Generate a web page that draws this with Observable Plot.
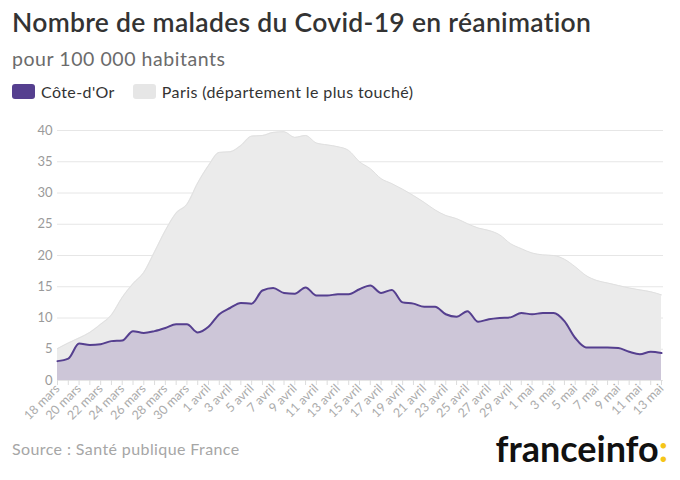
<!DOCTYPE html>
<html>
<head>
<meta charset="utf-8">
<script src="https://cdn.jsdelivr.net/npm/d3@7"></script>
<script src="https://cdn.jsdelivr.net/npm/@observablehq/plot@0.6"></script>
<style>
  html, body { margin: 0; padding: 0; background: #fff; }
  body { width: 680px; height: 480px; position: relative; overflow: hidden; font-family: Lato, "Open Sans", sans-serif; }
  #title { position: absolute; left: 12px; top: 6px; font-size: 26.5px; font-weight: 600; color: #333; letter-spacing: 0.3px; white-space: nowrap; }
  #subtitle { position: absolute; left: 12px; top: 47px; font-size: 19.5px; color: #6b6b6b; letter-spacing: 0.55px; white-space: nowrap; }
  #legend { position: absolute; left: 12px; top: 82px; font-size: 16px; color: #333; display: flex; align-items: center; white-space: nowrap; letter-spacing: 0.4px; }
  .sw { display: inline-block; width: 23px; height: 15px; border-radius: 3px; margin-right: 6px; }
  .item { display: flex; align-items: center; margin-right: 18px; }
  #chart { position: absolute; left: 0; top: 115px; }
  #source { position: absolute; left: 12px; top: 439px; font-size: 16px; color: #a6a6a6; letter-spacing: 0.4px; white-space: nowrap; }
  #logo { position: absolute; right: 12px; top: 426px; font-size: 36px; font-weight: 700; color: #111; letter-spacing: 0px; white-space: nowrap; }
  #logo span { color: #f5c518; }
</style>
</head>
<body>
<div id="title">Nombre de malades du Covid-19 en réanimation</div>
<div id="subtitle">pour 100 000 habitants</div>
<div id="legend"></div>
<div id="chart"></div>
<div id="source">Source : Santé publique France</div>
<div id="logo">franceinfo<span>:</span></div>
<script>
// ---- data ----
const startDate = [2020, 2, 18]; // 18 mars 2020
const monthNames = ["janv.", "févr.", "mars", "avril", "mai", "juin"];
const seriesNames = ["Côte-d'Or", "Paris (département le plus touché)"];
const coteDOr = [
  3.1, 3.5, 5.9, 5.7, 5.8, 6.3, 6.4, 7.9, 7.6, 7.9,
  8.4, 9.0, 9.0, 7.7, 8.6, 10.6, 11.6, 12.4, 12.3, 14.4,
  14.8, 14.0, 13.9, 14.9, 13.6, 13.6, 13.8, 13.8, 14.6, 15.2,
  14.0, 14.5, 12.5, 12.3, 11.8, 11.8, 10.6, 10.2, 11.1, 9.4,
  9.8, 10.0, 10.1, 10.8, 10.6, 10.8, 10.8, 9.5, 6.8, 5.3,
  5.3, 5.3, 5.2, 4.6, 4.2, 4.6, 4.4
];
const paris = [
  5.1, 6.0, 6.8, 7.7, 9.0, 10.5, 13.3, 15.5, 17.3, 20.6,
  24.0, 26.8, 28.2, 31.6, 34.4, 36.5, 36.6, 37.6, 39.1, 39.2,
  39.7, 39.8, 38.9, 39.2, 38.0, 37.7, 37.4, 36.8, 35.0, 33.9,
  32.3, 31.5, 30.6, 29.6, 28.5, 27.3, 26.4, 25.9, 25.1, 24.4,
  24.0, 23.3, 21.9, 21.1, 20.4, 20.1, 20.0, 19.4, 18.2, 16.8,
  16.0, 15.6, 15.2, 14.8, 14.5, 14.2, 13.7
];
const yTicks = [0, 5, 10, 15, 20, 25, 30, 35, 40];
const colors = { cote: "#553f8f", coteFill: "#cdc6d8", paris: "#ebebeb", parisEdge: "#e0e0e0" };

// ---- build table ----
const dates = coteDOr.map((_, i) => new Date(Date.UTC(startDate[0], startDate[1], startDate[2] + i)));
const data = dates.map((d, i) => ({ date: d, cote: coteDOr[i], paris: paris[i] }));
const labelDates = dates.filter((_, i) => i % 2 === 0);
const fmt = d => `${d.getUTCDate()} ${monthNames[d.getUTCMonth()]}`;

// legend
const legend = document.getElementById("legend");
[[seriesNames[0], colors.cote], [seriesNames[1], "#e6e6e6"]].forEach(([name, c]) => {
  const it = document.createElement("div");
  it.className = "item";
  it.innerHTML = `<span class="sw" style="background:${c}"></span><span>${name}</span>`;
  legend.appendChild(it);
});

const curve = "monotone-x";
const chart = Plot.plot({
  width: 680,
  height: 310,
  marginLeft: 57,
  marginRight: 19,
  marginTop: 15,
  marginBottom: 45,
  style: { fontFamily: "Lato, 'Open Sans', sans-serif", background: "transparent", overflow: "visible" },
  x: { type: "utc", domain: [dates[0], dates[dates.length - 1]] },
  y: { domain: [0, 40] },
  marks: [
    Plot.gridY(yTicks, { stroke: "#e6e6e6", strokeOpacity: 1, x1: dates[0], x2: dates[dates.length - 1], insetRight: -2 }),
    Plot.areaY(data, { x: "date", y: "paris", fill: colors.paris, curve }),
    Plot.lineY(data, { x: "date", y: "paris", stroke: colors.parisEdge, strokeWidth: 1, curve }),
    Plot.areaY(data, { x: "date", y: "cote", fill: colors.coteFill, curve }),
    Plot.lineY(data, { x: "date", y: "cote", stroke: colors.cote, strokeWidth: 2, curve }),
    Plot.axisY({ ticks: yTicks, tickSize: 0, tickPadding: 5, fill: "#9a9a9a", fontSize: 13, label: null }),
    Plot.axisX({ ticks: dates, tickSize: 5, stroke: "#dcdcdc", tickFormat: () => "", label: null }),
    Plot.axisX({ ticks: labelDates, tickSize: 0, tickPadding: 6, tickRotate: -45, tickFormat: fmt, fill: "#ababab", fontSize: 12.5, label: null })
  ]
});
document.getElementById("chart").appendChild(chart);
</script>
</body>
</html>
